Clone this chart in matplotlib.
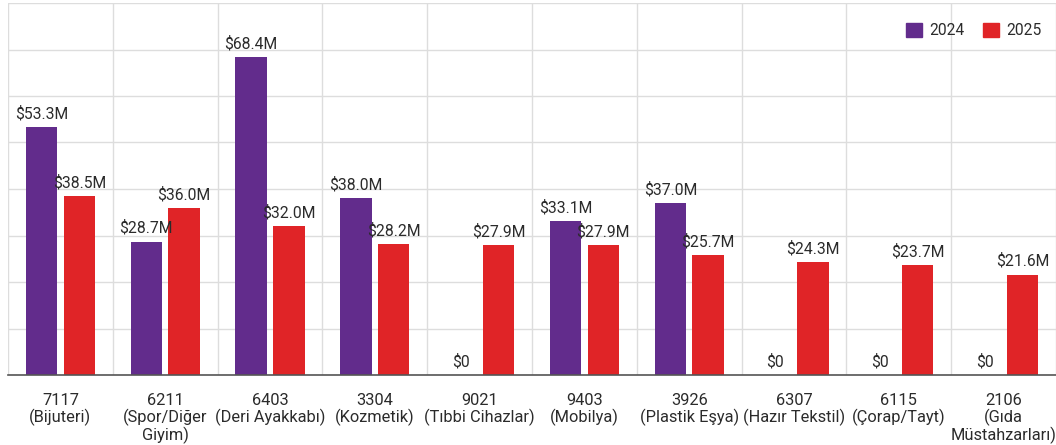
import numpy as np
import matplotlib
matplotlib.use('Agg')
import matplotlib.pyplot as plt
from matplotlib.patches import Patch

plt.rcParams['font.family'] = ['Roboto', 'DejaVu Sans']

# chart data (millions of USD)
categories = ['7117\n(Bijuteri)', '6211\n(Spor/Diğer\nGiyim)', '6403\n(Deri Ayakkabı)',
              '3304\n(Kozmetik)', '9021\n(Tıbbi Cihazlar)', '9403\n(Mobilya)',
              '3926\n(Plastik Eşya)', '6307\n(Hazır Tekstil)', '6115\n(Çorap/Tayt)',
              '2106\n(Gıda\nMüstahzarları)']
values_2024 = [53.3, 28.7, 68.4, 38.0, 0, 33.1, 37.0, 0, 0, 0]
values_2025 = [38.5, 36.0, 32.0, 28.2, 27.9, 27.9, 25.7, 24.3, 23.7, 21.6]
series_names = ['2024', '2025']

purple = '#622c8c'
red = '#e02427'
text_col = '#2b2b2b'

fig = plt.figure(figsize=(10.56, 4.45), dpi=100)
ax = fig.add_axes([8 / 1056, 1 - 375 / 445, 1048 / 1056, 372 / 445])

x = np.arange(len(categories))
w = 0.30
off = 0.18
ax.bar(x - off, values_2024, w, color=purple, zorder=3)
ax.bar(x + off, values_2025, w, color=red, zorder=3)

def fmt(v):
    return '$0' if v == 0 else f'${v:.1f}M'

for xi, v in zip(x, values_2024):
    ax.text(xi - off, v + 1.2, fmt(v), ha='center', va='bottom', fontsize=11.3, color=text_col, zorder=4)
for xi, v in zip(x, values_2025):
    ax.text(xi + off, v + 1.2, fmt(v), ha='center', va='bottom', fontsize=11.3, color=text_col, zorder=4)

ax.set_xlim(-0.5, len(categories) - 0.5)
ax.set_ylim(0, 80)
ax.set_yticks(np.arange(0, 81, 10))
ax.set_yticklabels([])
ax.tick_params(axis='y', length=0)
ax.set_xticks(x)
ax.set_xticklabels(categories, fontsize=11.8, color=text_col, linespacing=1.05)
ax.tick_params(axis='x', length=0, pad=13)
ax.set_xticks(np.arange(-0.5, len(categories), 1), minor=True)
ax.tick_params(axis='x', which='minor', length=0)
ax.grid(axis='y', color='#dddddd', linewidth=1, zorder=0)
ax.grid(axis='x', which='minor', color='#dddddd', linewidth=1, zorder=0)
ax.grid(axis='x', which='major', visible=False)

for s in ['top', 'right', 'left']:
    ax.spines[s].set_visible(False)
ax.spines['bottom'].set_color('#555555')
ax.spines['bottom'].set_linewidth(1.2)
ax.spines['bottom'].set_zorder(5)

handles = [Patch(color=purple), Patch(color=red)]
ax.legend(handles, series_names, loc='upper right', ncol=2, frameon=False, fontsize=11.2,
          handlelength=1.0, handleheight=1.0, handletextpad=0.5, columnspacing=1.2,
          bbox_to_anchor=(1.0, 0.985), labelcolor=text_col)

fig.savefig('out.png', dpi=100)
